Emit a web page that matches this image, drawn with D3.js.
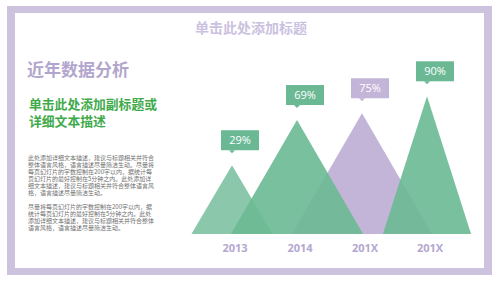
<!DOCTYPE html>
<html>
<head>
<meta charset="utf-8">
<script src="https://cdn.jsdelivr.net/npm/d3@7"></script>
<style>
  body { margin: 0; background: #fff; }
  svg { display: block; font-family: "Noto Sans CJK SC", "Noto Sans", sans-serif; }
</style>
</head>
<body>
<svg id="chart"></svg>
<script>
const years = ['2013', '2014', '201X', '201X']
const values = [29, 69, 75, 90]
const colours = ['green', 'green', 'purple', 'green']

const para1 = [
    '此处添加详细文本描述，建议与标题相关并符合',
    '整体语言风格，语言描述尽量简洁生动。尽量将',
    '每页幻灯片的字数控制在200字以内，据统计每',
    '页幻灯片的最好控制在5分钟之内。此处添加详',
    '细文本描述，建议与标题相关并符合整体语言风',
    '格，语言描述尽量简洁生动。'
]
const para2 = [
    '尽量将每页幻灯片的字数控制在200字以内，据',
    '统计每页幻灯片的最好控制在5分钟之内。此处',
    '添加详细文本描述，建议与标题相关并符合整体',
    '语言风格，语言描述尽量简洁生动。'
]

buildSlide()

function buildSlide() {

    const width = 500
    const height = 281
    const green = '#6ab994'
    const purple = '#c3b5d7'
    const frame = '#cdc3df'
    const base = 234

    const svg = d3.select('#chart')
        .attr('width', width)
        .attr('height', height)

    // frame
    svg.append('rect')
        .attr('x', 7).attr('y', 6)
        .attr('width', 485).attr('height', 269)
        .style('fill', frame)
    svg.append('rect')
        .attr('x', 15).attr('y', 13)
        .attr('width', 469).attr('height', 255)
        .style('fill', '#fff')

    svg.append('text')
        .attr('x', 251).attr('y', 33)
        .attr('text-anchor', 'middle')
        .style('font-size', '14px')
        .style('font-weight', 'bold')
        .style('fill', '#cbc2df')
        .text('单击此处添加标题')

    svg.append('text')
        .attr('x', 27).attr('y', 76)
        .style('font-size', '17px')
        .style('font-weight', 'bold')
        .style('fill', '#b2a6cd')
        .text('近年数据分析')

    const sub = svg.append('text')
        .style('font-size', '12.8px')
        .style('font-weight', 'bold')
        .style('fill', '#3faa4a')
    sub.append('tspan').attr('x', 29).attr('y', 109).text('单击此处添加副标题或')
    sub.append('tspan').attr('x', 29).attr('y', 126).text('详细文本描述')

    const body = svg.append('g')
        .style('font-size', '6px')
        .style('fill', '#6f6f6f')
    body.selectAll('text.p1')
        .data(para1)
        .join('text')
        .attr('x', 28)
        .attr('y', (d, i) => 160 + i * 7)
        .text(d => d)
    body.selectAll('text.p2')
        .data(para2)
        .join('text')
        .attr('x', 28)
        .attr('y', (d, i) => 209 + i * 7)
        .text(d => d)

    // chart
    const x = d3.scalePoint()
        .domain(d3.range(years.length))
        .range([232, 427])

    const h = d3.scaleLinear()
        .domain([0, 100])
        .range([36, 149])

    const spread = [0.59, 0.58, 0.58, 0.32]
    const order = [2, 0, 1, 3]

    const peaks = svg.append('g')
    order.forEach(i => {
        const cx = x(i)
        const top = base - h(values[i])
        const half = h(values[i]) * spread[i]
        peaks.append('path')
            .attr('d', `M${cx - half},${base}L${cx},${top}L${cx + half},${base}Z`)
            .style('fill', colours[i] == 'green' ? green : purple)
            .style('fill-opacity', colours[i] == 'green' ? (i == 0 ? 0.78 : 0.9) : 1)
    })

    const labels = svg.append('g')
    values.forEach((v, i) => {
        const cx = x(i)
        const top = base - h(v)
        const by = top - 15
        const fill = colours[i] == 'green' ? green : purple
        labels.append('rect')
            .attr('x', cx - 11).attr('y', by - 20)
            .attr('width', 38).attr('height', 20)
            .style('fill', fill)
        labels.append('path')
            .attr('d', `M${cx - 3},${by}L${cx},${by + 3}L${cx + 3},${by}Z`)
            .style('fill', fill)
        labels.append('text')
            .attr('x', cx + 8).attr('y', by - 6)
            .attr('text-anchor', 'middle')
            .style('font-size', '11px')
            .style('fill', '#fff')
            .style('font-family', '"Open Sans", sans-serif')
            .text(v + '%')
    })

    svg.append('g')
        .selectAll('text')
        .data(years)
        .join('text')
        .attr('x', (d, i) => x(i) + 3)
        .attr('y', 252)
        .attr('text-anchor', 'middle')
        .style('font-size', '11px')
        .style('font-weight', 'bold')
        .style('fill', '#b3a7cf')
        .style('font-family', '"Open Sans", sans-serif')
        .text(d => d)
}
</script>
</body>
</html>
